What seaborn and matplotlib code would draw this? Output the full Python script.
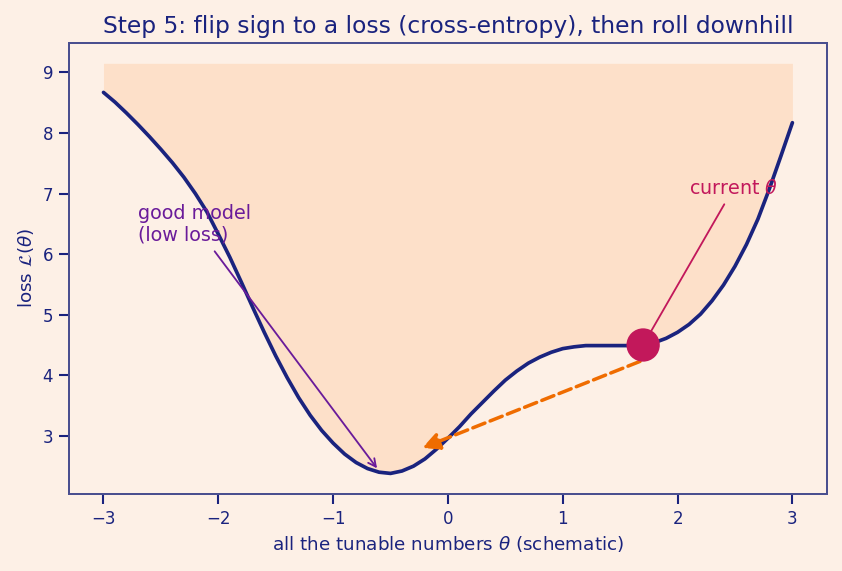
import numpy as np
import pandas as pd
import matplotlib
matplotlib.use("Agg")
import matplotlib.pyplot as plt
import seaborn as sns

# Curve (theta vs loss), every 0.1
theta = [-3.0, -2.9, -2.8, -2.7, -2.6, -2.5, -2.4, -2.3, -2.2, -2.1,
         -2.0, -1.9, -1.8, -1.7, -1.6, -1.5, -1.4, -1.3, -1.2, -1.1,
         -1.0, -0.9, -0.8, -0.7, -0.6, -0.5, -0.4, -0.3, -0.2, -0.1,
         0.0, 0.1, 0.2, 0.3, 0.4, 0.5, 0.6, 0.7, 0.8, 0.9,
         1.0, 1.1, 1.2, 1.3, 1.4, 1.5, 1.6, 1.7, 1.8, 1.9,
         2.0, 2.1, 2.2, 2.3, 2.4, 2.5, 2.6, 2.7, 2.8, 2.9, 3.0]
loss = [8.67, 8.51, 8.33, 8.14, 7.94, 7.73, 7.51, 7.27, 7.00, 6.70,
        6.33, 5.95, 5.54, 5.12, 4.71, 4.32, 3.96, 3.63, 3.34, 3.09,
        2.88, 2.70, 2.56, 2.46, 2.40, 2.38, 2.42, 2.50, 2.62, 2.78,
        2.96, 3.15, 3.36, 3.55, 3.74, 3.92, 4.07, 4.20, 4.30, 4.38,
        4.44, 4.47, 4.49, 4.49, 4.49, 4.49, 4.49, 4.50, 4.54, 4.61,
        4.71, 4.84, 5.01, 5.23, 5.49, 5.80, 6.16, 6.58, 7.08, 7.62, 8.17]
fill_top = 9.15

current_theta = [1.7]
current_loss = [4.5]
step_start = (1.7, 4.25)
step_end = (-0.25, 2.78)
good_point = (-0.6, 2.42)

NAVY = "#1a237e"
BG = "#fdf0e6"

sns.set_theme(style="ticks", rc={
    "figure.facecolor": BG,
    "axes.facecolor": BG,
    "axes.edgecolor": "#4a4f8f",
    "axes.linewidth": 1.2,
    "xtick.color": NAVY,
    "ytick.color": NAVY,
    "text.color": NAVY,
    "axes.labelcolor": NAVY,
})
plt.rcParams["font.family"] = ["DejaVu Sans"]

df = pd.DataFrame({"theta": theta, "loss": loss})

fig, ax = plt.subplots(figsize=(8.42 / 1.2, 5.71 / 1.2), dpi=120)
fig.subplots_adjust(left=0.082, right=0.982, top=0.925, bottom=0.135)

ax.fill_between(df["theta"], df["loss"], fill_top, color="#fde0c9", lw=0)
sns.lineplot(data=df, x="theta", y="loss", ax=ax, color=NAVY, lw=2.2)
sns.scatterplot(x=current_theta, y=current_loss, ax=ax, s=400,
                color="#c2185b", edgecolor="none", zorder=5)

ax.annotate("", xy=step_end, xytext=step_start,
            arrowprops=dict(arrowstyle="-|>,head_length=0.7,head_width=0.35",
                            color="#ef6c00", lw=2.1, ls="--"))
ax.annotate("good model\n(low loss)", xy=good_point, xytext=(-2.7, 6.22),
            color="#6a1b9a", fontsize=11.5,
            arrowprops=dict(arrowstyle="->", color="#6a1b9a", lw=1.1))
ax.annotate(r"current $\theta$", xy=(current_theta[0], current_loss[0]),
            xytext=(2.1, 7.0), color="#c2185b", fontsize=11.5,
            arrowprops=dict(arrowstyle="-", color="#c2185b", lw=1.1, shrinkB=10))

ax.set_title("Step 5: flip sign to a loss (cross-entropy), then roll downhill",
             fontsize=14, color=NAVY)
ax.set_xlabel(r"all the tunable numbers $\theta$ (schematic)", fontsize=11)
ax.set_ylabel(r"loss $\mathcal{L}(\theta)$", fontsize=11)
ax.tick_params(labelsize=10)

fig.savefig("out.png", dpi=120, facecolor=BG)
